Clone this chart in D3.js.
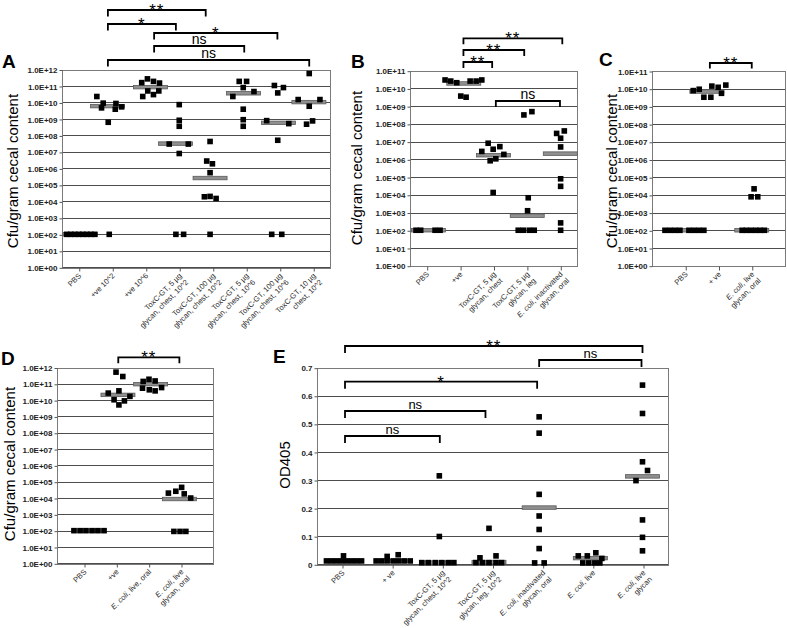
<!DOCTYPE html>
<html><head><meta charset="utf-8">
<script src="https://cdn.jsdelivr.net/npm/d3@7"></script>
<style>body{margin:0;background:#fff}svg{display:block;font-family:"Liberation Sans",Arial,sans-serif}</style>
</head><body><svg id="c" width="787" height="628"></svg>
<script>
// ================= DATA =================
// x values are category positions (1 = first category) as in the original scatter-style dot plot
const catsA = ["PBS","+ve 10^2","+ve 10^6","ToxC-GT, 5 µg|glycan, chest, 10^2","ToxC-GT, 100 µg|glycan, chest, 10^2","ToxC-GT, 5 µg|glycan, chest, 10^6","ToxC-GT, 100 µg|glycan, chest, 10^6","ToxC-GT, 10 µg|chest, 10^2"];
const pointsA = [
 [0.64,100],[0.76,100],[0.88,100],[1.0,100],[1.12,100],[1.24,100],[1.36,100],[1.48,100],
 [1.54,2.3e10],[1.73,9.1e9],[1.68,4.7e9],[2.11,8.7e9],[2.09,3.9e9],[2.28,5.4e9],[1.88,6.3e8],[1.91,100],
 [2.88,1.6e11],[3.05,2.7e11],[3.23,1.9e11],[3.41,1.5e11],[2.91,2.3e10],[3.06,5e10],[3.23,3e10],[3.39,5e10],
 [4.0,7.4e9],[4.0,8.3e8],[4.0,3.6e8],[3.7,3e7],[4.27,3e7],[4.0,8e6],[3.9,100],[4.13,100],
 [4.92,4.3e7],[4.82,2.8e6],[4.99,1.9e6],[4.92,5.5e5],[4.75,1.9e4],[4.92,2e4],[5.1,1.5e4],[4.92,100],
 [5.79,1.9e11],[6.01,1.9e11],[5.91,8e10],[6.23,4.6e10],[5.6,2.3e10],[5.91,3.9e9],[5.91,9e8],[5.91,3.6e8],
 [6.84,1.07e11],[7.11,8e10],[6.94,3.8e10],[6.61,7.9e8],[7.27,5.2e8],[6.94,5.1e7],[6.76,100],[7.06,100],
 [7.88,5.7e11],[7.55,1.5e10],[8.2,1.5e10],[7.88,5.9e9],[7.98,7.6e8],[7.8,4.8e8]
];
const mediansA = [[1.04,100],[1.86,6e9],[3.14,8.5e10],[3.89,3.2e7],[4.92,2.6e5],[5.92,3.6e10],[6.96,5.8e8],[7.87,1.05e10]];
const bracketsA = [[1.87,4.79,"**"],[1.87,3.9,"*"],[3.25,6.93,"*"],[3.25,5.94,"ns"],[1.87,7.88,"ns"]];

const catsB = ["PBS","+ve","ToxC-GT, 5 µg|glycan, chest","ToxC-GT, 5 µg|glycan, leg","E. coli, inactivated|glycan, oral"];
const pointsB = [
 [0.68,100],[0.82,100],[1.25,100],[1.4,100],
 [1.55,3e10],[1.72,2.6e10],[1.9,2.1e10],[2.3,2.6e10],[2.48,2.6e10],[2.65,3e10],[2.02,3.7e9],[2.18,3.2e9],
 [2.84,8.1e6],[2.65,2.8e6],[2.99,3.7e6],[3.19,5.2e6],[3.31,1.9e6],[2.9,8.3e5],[3.07,1.07e6],[2.99,1.35e4],
 [3.91,3.2e8],[4.15,4.9e8],[4.04,6.8e3],[4.02,1.26e3],[3.74,100],[3.89,100],[4.07,100],[4.22,100],
 [4.89,2.9e7],[5.12,4e7],[5.01,1.55e7],[5.01,5e6],[5.01,8e4],[5.01,3e4],[5.01,260],[5.01,100]
];
const mediansB = [[1.05,100],[2.11,1.9e10],[3.0,1.7e6],[4.01,660],[5.0,2.1e6]];
const bracketsB = [[2.1,5.06,"**"],[2.1,3.92,"**"],[2.1,2.96,"**"],[3.07,4.99,"ns"]];

const catsC = ["PBS","+ ve","E. coli, live|glycan, oral"];
const pointsC = [
 [0.39,100],[0.54,100],[0.69,100],[0.84,100],[1.11,100],[1.26,100],[1.41,100],[1.56,100],
 [1.24,7.8e9],[1.42,9.3e9],[1.8,1.4e10],[1.99,1.2e10],[2.22,1.6e10],[1.56,3.3e9],[1.77,3.3e9],[2.09,5.5e9],
 [3.07,2.2e4],[2.98,7.8e3],[3.18,7.8e3],[2.71,100],[2.84,100],[2.98,100],[3.12,100],[3.25,100],[3.38,100]
];
const mediansC = [[0.97,100],[1.65,6.9e9],[3.0,100]];
const bracketsC = [[1.74,3.0,"**"]];

const catsD = ["PBS","+ve","E. coli, live, oral","E. coli, live|glycan, oral"];
const pointsD = [
 [0.69,100],[0.88,100],[1.06,100],[1.25,100],[1.43,100],[1.62,100],
 [1.99,5.2e11],[2.2,2.8e11],[1.75,2.7e10],[2.08,3.7e10],[1.93,1.05e10],[2.25,9e9],[2.42,1.7e10],[2.08,5.1e9],
 [2.83,1.4e11],[3.01,1.9e11],[3.2,1.5e11],[2.81,5.4e10],[3.02,4.3e10],[3.2,3.7e10],[3.4,5.9e10],
 [3.61,2e4],[3.84,2.6e4],[4.02,4.5e4],[4.1,1.8e4],[4.3,1e4],[3.78,90],[3.97,90],[4.15,90]
];
const mediansD = [[1.15,100],[2.05,2.1e10],[3.06,9.5e10],[3.95,8.7e3]];
const bracketsD = [[2.06,3.95,"**"]];

const catsE = ["PBS","+ ve","ToxC-GT, 5 µg|glycan, chest, 10^2","ToxC-GT, 5 µg|glycan, leg, 10^2","E. coli, inactivated|glycan, oral","E. coli, live","E. coli, live|glycan"];
const pointsE = [
 [0.69,.012],[0.79,.012],[0.89,.012],[0.99,.012],[1.09,.012],[1.19,.012],[1.29,.012],[1.39,.012],[1.03,.03],
 [1.68,.012],[1.79,.012],[1.9,.012],[2.02,.012],[2.13,.012],[2.24,.012],[2.36,.012],[1.9,.028],[2.12,.034],
 [2.94,.315],[2.94,.099],[2.59,.006],[2.72,.006],[2.86,.006],[2.99,.006],[3.12,.006],[3.23,.006],
 [3.93,.128],[3.75,.023],[4.07,.03],[3.67,.006],[3.8,.006],[3.93,.006],[4.07,.006],[4.18,.006],
 [4.93,.525],[4.93,.467],[4.93,.249],[4.93,.172],[4.93,.124],[4.93,.056],[4.84,.005],[5.03,.005],
 [5.71,.03],[5.89,.03],[6.06,.041],[6.18,.021],[5.8,.005],[5.92,.005],[6.04,.005],[6.14,.005],
 [6.99,.638],[6.99,.537],[6.99,.365],[7.09,.334],[6.86,.298],[6.99,.158],[6.99,.096],[6.99,.048]
];
const mediansE = [[1.04,.012],[2.02,.012],[2.92,.006],[3.93,.008],[4.93,.202],[5.95,.022],[6.99,.313]];
const bracketsE = [[1.06,6.99,"**"],[4.93,6.97,"ns"],[1.06,4.89,"*"],[1.06,3.86,"ns"],[1.06,2.95,"ns"]];

const logTicks12 = [1,1e1,1e2,1e3,1e4,1e5,1e6,1e7,1e8,1e9,1e10,1e11,1e12];
const logTicks11 = [1,1e1,1e2,1e3,1e4,1e5,1e6,1e7,1e8,1e9,1e10,1e11];
const odTicks = [0,0.1,0.2,0.3,0.4,0.5,0.6,0.7];

// ================= LAYOUT =================
const layout = {
 A:{letter:"A",lx:2,ly:68,left:62,right:330,top:69.5,bottom:267.3,xr:[78.75,313.25],log:true,yd:[1,1e12],ticks:logTicks12,
    ylab:"Cfu/gram cecal content",ylx:18,yly:171,brY:[10,24,33,46,60],drop:6.5},
 B:{letter:"B",lx:351,ly:68,left:410,right:577,top:70.7,bottom:265.7,xr:[426.7,560.3],log:true,yd:[1,1e11],ticks:logTicks11,
    ylab:"Cfu/gram cecal content",ylx:362,yly:168,brY:[38.3,50,62,101],drop:6},
 C:{letter:"C",lx:599,ly:66,left:652,right:785,top:71,bottom:265.7,xr:[685.25,751.75],log:true,yd:[1,1e11],ticks:logTicks11,
    ylab:"Cfu/gram cecal content",ylx:617,yly:171,brY:[63],drop:5.5},
 D:{letter:"D",lx:1,ly:365,left:57,right:213,top:367.5,bottom:563.3,xr:[84,181],log:true,yd:[1,1e12],ticks:logTicks12,
    ylab:"Cfu/gram cecal content",ylx:15,yly:464,brY:[357.3],drop:6},
 E:{letter:"E",lx:273,ly:363,left:317,right:668,top:367.7,bottom:564.3,xr:[342,643],log:false,yd:[0,0.7],ticks:odTicks,
    ylab:"OD405",ylx:290,yly:465,brY:[346,360,381.7,411,436],drop:7,nsSize:13}
};

const svg = d3.select("#c");
const fmtE = v => "1.0E+" + String(Math.round(Math.log10(v))).padStart(2,"0");
const crisp = v => Math.round(v) + 0.5;

function panel(L, cats, pts, meds, brs){
  const g = svg.append("g");
  const n = cats.length;
  const x = d3.scaleLinear().domain([1,n]).range(L.xr);
  const y = (L.log ? d3.scaleLog() : d3.scaleLinear()).domain(L.yd).range([L.bottom, L.top]);

  // gridlines
  g.append("g").selectAll("line").data(L.ticks).join("line")
    .attr("x1",L.left).attr("x2",L.right)
    .attr("y1",d=>crisp(y(d))).attr("y2",d=>crisp(y(d)))
    .attr("stroke","#4d4d4d").attr("stroke-width",1);
  // frame
  g.append("rect").attr("x",crisp(L.left)).attr("y",crisp(L.top))
    .attr("width",Math.round(L.right-L.left)).attr("height",Math.round(L.bottom-L.top))
    .attr("fill","none").attr("stroke","#7a7a7a").attr("stroke-width",1);

  // y axis
  const ya = d3.axisLeft(y).tickValues(L.ticks).tickSize(3).tickPadding(2)
    .tickFormat(L.log ? fmtE : d3.format(".1~f"));
  const yg = g.append("g").attr("transform",`translate(${crisp(L.left)},0.5)`).call(ya);
  yg.select(".domain").remove();
  yg.selectAll(".tick line").attr("stroke","#555");
  yg.selectAll(".tick text").attr("font-size",8).attr("font-weight","bold").attr("fill","#222")
    .attr("font-family","Liberation Sans, Arial, sans-serif");

  // x axis ticks
  const xa = d3.axisBottom(x).tickValues(d3.range(1,n+1)).tickSize(4).tickFormat("");
  const xg = g.append("g").attr("transform",`translate(0.5,${crisp(L.bottom)})`).call(xa);
  xg.select(".domain").remove();
  xg.selectAll(".tick line").attr("stroke","#555");

  // x labels
  const lg = g.append("g").selectAll("g").data(cats).join("g")
    .attr("transform",(d,i)=>`translate(${x(i+1)+3},${L.bottom+9}) rotate(-45)`);
  lg.each(function(d){
    const t = d3.select(this).append("text").attr("text-anchor","end")
      .attr("font-size",7.6).attr("fill","#2a2a2a");
    d.split("|").forEach((line,li)=>{
      const parts = line.split(/(E\. coli)/).filter(p=>p.length);
      parts.forEach((p,pi)=>{
        const ts = t.append("tspan").text(p);
        if (p==="E. coli") ts.attr("font-style","italic");
        if (pi===0) ts.attr("x",0).attr("dy", li ? "1.2em" : 0);
      });
    });
  });

  // medians
  g.append("g").selectAll("rect").data(meds).join("rect")
    .attr("x",d=>x(d[0])-17).attr("y",d=>y(d[1])-1.75)
    .attr("width",34).attr("height",3.5)
    .attr("fill","#8f8f8f").attr("stroke","#5a5a5a").attr("stroke-width",0.8);

  // points
  g.append("g").selectAll("rect").data(pts).join("rect")
    .attr("x",d=>x(d[0])-2.8).attr("y",d=>y(d[1])-2.8)
    .attr("width",5.6).attr("height",5.6).attr("fill","#000");

  // brackets
  const bg = g.append("g");
  brs.forEach((b,i)=>{
    const yy = L.brY[i], x1 = x(b[0]), x2 = x(b[1]);
    bg.append("path").attr("d",`M${x1},${yy+L.drop}V${yy}H${x2}V${yy+L.drop}`)
      .attr("fill","none").attr("stroke","#000").attr("stroke-width",1.8);
    const star = b[2] !== "ns";
    bg.append("text").attr("x",(x1+x2)/2).attr("y", star ? yy+6 : yy-2)
      .attr("text-anchor","middle")
      .attr("font-size", star ? 17 : (L.nsSize||14))
      .attr("letter-spacing", star ? 1 : 0)
      .attr("fill","#000").text(b[2]);
  });

  // y label
  g.append("text").attr("transform",`translate(${L.ylx},${L.yly}) rotate(-90)`)
    .attr("text-anchor","middle").attr("font-size",15).attr("fill","#000").text(L.ylab);
  // panel letter
  g.append("text").attr("x",L.lx).attr("y",L.ly).attr("font-size",19).attr("font-weight","bold")
    .attr("fill","#000").text(L.letter);
}

panel(layout.A, catsA, pointsA, mediansA, bracketsA);
panel(layout.B, catsB, pointsB, mediansB, bracketsB);
panel(layout.C, catsC, pointsC, mediansC, bracketsC);
panel(layout.D, catsD, pointsD, mediansD, bracketsD);
panel(layout.E, catsE, pointsE, mediansE, bracketsE);
</script></body></html>
